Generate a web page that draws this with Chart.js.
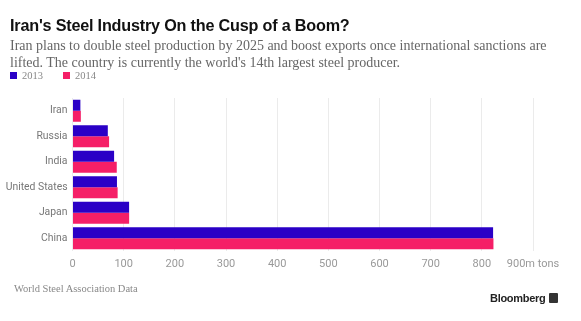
<!DOCTYPE html>
<html>
<head>
<meta charset="utf-8">
<script src="https://cdn.jsdelivr.net/npm/chart.js@4"></script>
<style>
  html, body { margin: 0; padding: 0; background: #fff; }
  #wrap { position: relative; width: 581px; height: 321px; overflow: hidden; }
  #chart { position: absolute; left: 0; top: 0; }
  .txt { position: absolute; white-space: nowrap; }
  #title { left: 10px; top: 16px; font: bold 16.2px "Liberation Sans", Arial, sans-serif; color: #111; letter-spacing: -0.2px; }
  #subtitle { left: 10px; top: 37px; font: 14px/17.4px "Liberation Serif", serif; color: #666; }
  #legend { left: 10px; top: 70px; font: 10.5px "Liberation Serif", serif; color: #888; }
  #legend span.sw { display: inline-block; width: 7px; height: 7px; margin-right: 5px; vertical-align: 0px; }
  #legend span.item { margin-right: 20px; }
  #source { left: 14px; top: 283px; font: 10.5px "Liberation Serif", serif; color: #888; }
  #brand { left: 490px; top: 292px; font: bold 11px "Liberation Sans", Arial, sans-serif; color: #222; letter-spacing: -0.3px; }
  #brand .logo { display: inline-block; width: 9px; height: 10px; background: #333; border-radius: 1px; margin-left: 4px; vertical-align: -1px; }
</style>
</head>
<body>
<div id="wrap">
  <canvas id="chart" width="581" height="321"></canvas>
  <div id="title" class="txt">Iran's Steel Industry On the Cusp of a Boom?</div>
  <div id="subtitle" class="txt">Iran plans to double steel production by 2025 and boost exports once international sanctions are<br>lifted. The country is currently the world's 14th largest steel producer.</div>
  <div id="legend" class="txt"></div>
  <div id="source" class="txt">World Steel Association Data</div>
  <div id="brand" class="txt">Bloomberg<span class="logo"></span></div>
</div>
<script>
// Crude steel production, million tons
const countries = ['Iran', 'Russia', 'India', 'United States', 'Japan', 'China'];
const years = ['2013', '2014'];
const output2013 = [15.4, 69.0, 81.3, 86.9, 110.6, 822.0];
const output2014 = [16.3, 71.5, 86.5, 88.2, 110.7, 822.7];
const xTicks = [0, 100, 200, 300, 400, 500, 600, 700, 800, 900];
const seriesColors = ['#2a00c6', '#f51f67'];

// legend built from the series names
const legendEl = document.getElementById('legend');
years.forEach((y, i) => {
    const item = document.createElement('span');
    item.className = 'item';
    item.innerHTML = `<span class="sw" style="background:${seriesColors[i]}"></span>${y}`;
    legendEl.appendChild(item);
});

const ctx = document.getElementById('chart').getContext('2d');
new Chart(ctx, {
    type: 'bar',
    data: {
        labels: countries,
        datasets: [
            { label: years[0], data: output2013, backgroundColor: seriesColors[0] },
            { label: years[1], data: output2014, backgroundColor: seriesColors[1] }
        ]
    },
    options: {
        indexAxis: 'y',
        responsive: false,
        animation: false,
        categoryPercentage: 0.86,
        barPercentage: 1.0,
        layout: { padding: { top: 98, right: 48, bottom: 50, left: 0 } },
        plugins: {
            legend: { display: false },
            tooltip: { enabled: false }
        },
        scales: {
            x: {
                min: 0,
                max: 900,
                afterBuildTicks: (scale) => { scale.ticks = xTicks.map(v => ({ value: v })); },
                afterFit: (scale) => { scale.height = 20; },
                grid: { color: '#ebebeb', drawTicks: false },
                border: { display: false },
                ticks: {
                    padding: 7,
                    color: '#999',
                    autoSkip: false,
                    maxRotation: 0,
                    minRotation: 0,
                    font: { family: 'Roboto, "Liberation Sans", sans-serif', size: 11 },
                    callback: (v) => v === 900 ? '900m tons' : String(v)
                }
            },
            y: {
                afterFit: (scale) => { scale.width = 72.5; },
                grid: { display: false, drawTicks: false },
                border: { display: false },
                ticks: {
                    padding: 5,
                    color: '#777',
                    font: { family: 'Roboto, "Liberation Sans", sans-serif', size: 10.4 }
                }
            }
        }
    }
});
</script>
</body>
</html>
